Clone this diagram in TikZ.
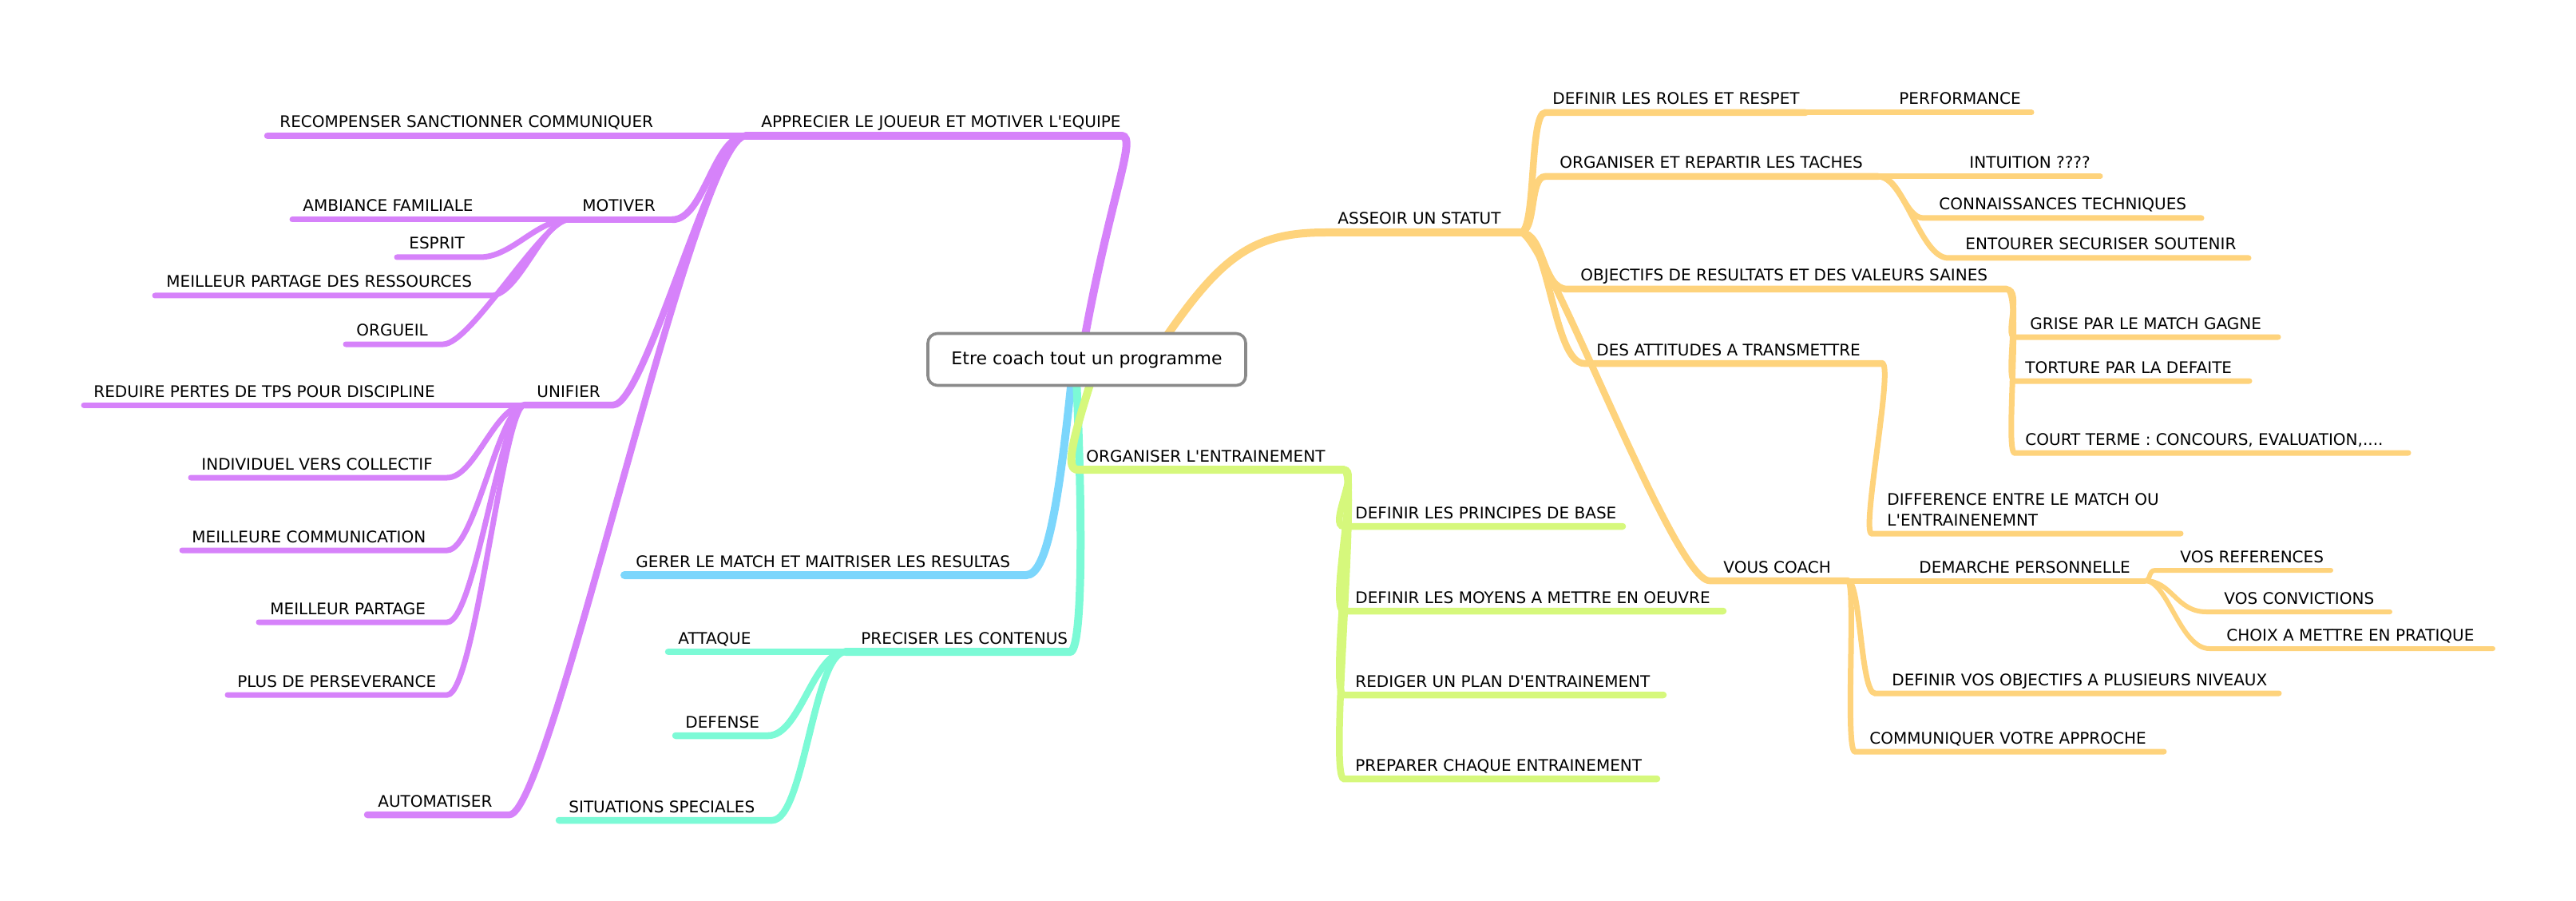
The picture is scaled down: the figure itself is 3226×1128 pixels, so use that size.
\documentclass[tikz,border=0pt]{standalone}
\usepackage{fontspec}
\newfontfamily\lblfont{DejaVu Sans}
\definecolor{cpur}{RGB}{214,130,250}
\definecolor{corg}{RGB}{254,211,124}
\definecolor{cgrn}{RGB}{214,248,124}
\definecolor{cblu}{RGB}{124,214,252}
\definecolor{ctea}{RGB}{124,250,214}
\definecolor{cbox}{RGB}{138,138,138}
\begin{document}
\begin{tikzpicture}[x=0.5pt,y=-0.5pt,
  lbl/.style={font=\lblfont\fontsize{10}{12}\selectfont, anchor=base west, inner sep=0pt},
  bra/.style={line width=5pt, line cap=round},
  brb/.style={line width=4.25pt, line cap=round},
  brc/.style={line width=3.5pt, line cap=round},
  brd/.style={line width=3pt, line cap=round},
  rootbox/.style={draw=cbox, line width=1.8pt, fill=white, rounded corners=6pt,
    minimum width=199pt, minimum height=32.5pt, inner sep=0pt,
    font=\lblfont\fontsize{11}{13}\selectfont}]
\useasboundingbox (0,0) rectangle (3226,1128);

% start points on the central box
\coordinate (rP) at (1358,425);
\coordinate (rO) at (1458,425);
\coordinate (rB) at (1342,475);
\coordinate (rT) at (1348,475);
\coordinate (rG) at (1367,475);

% ---------------- purple ----------------
\coordinate (appA) at (1405,170); \coordinate (appB) at (934,170);
\coordinate (recB) at (335,170);
\coordinate (motA) at (842,275); \coordinate (motB) at (712,275);
\coordinate (ambB) at (366,275);
\coordinate (espA) at (601,322); \coordinate (espB) at (497,322);
\coordinate (mpdA) at (615,370); \coordinate (mpdB) at (194,370);
\coordinate (orgA) at (555,431); \coordinate (orgB) at (433,431);
\coordinate (uniA) at (768,507); \coordinate (uniB) at (657,507);
\coordinate (redB) at (105,507);
\coordinate (indA) at (560,598); \coordinate (indB) at (239,598);
\coordinate (mcA) at (560,689); \coordinate (mcB) at (228,689);
\coordinate (mpA) at (560,779); \coordinate (mpB) at (324,779);
\coordinate (pdpA) at (560,870); \coordinate (pdpB) at (285,870);
\coordinate (autA) at (638,1020); \coordinate (autB) at (460,1020);

\draw[cpur,bra] (rP) .. controls (1392,240) and (1424,172) .. (appA);
\draw[cpur,bra] (appA) -- (appB);
\draw[cpur,brb] (appB) -- (recB);
\draw[cpur,brb] (appB) .. controls (894,170) and (882,275) .. (motA);
\draw[cpur,brb] (motA) -- (motB);
\draw[cpur,brc] (motB) -- (ambB);
\draw[cpur,brc] (motB) .. controls (672,275) and (641,322) .. (espA) -- (espB);
\draw[cpur,brc] (motB) .. controls (680,275) and (650,370) .. (mpdA) -- (mpdB);
\draw[cpur,brc] (motB) .. controls (680,275) and (590,431) .. (orgA) -- (orgB);
\draw[cpur,brb] (appB) .. controls (894,170) and (808,507) .. (uniA) -- (uniB);
\draw[cpur,brc] (uniB) -- (redB);
\draw[cpur,brc] (uniB) .. controls (620,507) and (595,598) .. (indA) -- (indB);
\draw[cpur,brc] (uniB) .. controls (625,507) and (595,689) .. (mcA) -- (mcB);
\draw[cpur,brc] (uniB) .. controls (628,507) and (595,779) .. (mpA) -- (mpB);
\draw[cpur,brc] (uniB) .. controls (630,507) and (595,870) .. (pdpA) -- (pdpB);
\draw[cpur,brb] (appB) .. controls (870,170) and (690,1020) .. (autA) -- (autB);

\node[lbl] (app) at (953,160) {APPRECIER LE JOUEUR ET MOTIVER L'EQUIPE};
\node[lbl] (rec) at (350,160) {RECOMPENSER SANCTIONNER COMMUNIQUER};
\node[lbl] (mot) at (729,265) {MOTIVER};
\node[lbl] (amb) at (379,265) {AMBIANCE FAMILIALE};
\node[lbl] (esp) at (512,312) {ESPRIT};
\node[lbl] (mpd) at (208,360) {MEILLEUR PARTAGE DES RESSOURCES};
\node[lbl] (org) at (446,421) {ORGUEIL};
\node[lbl] (uni) at (672,497) {UNIFIER};
\node[lbl] (red) at (117,497) {REDUIRE PERTES DE TPS POUR DISCIPLINE};
\node[lbl] (ind) at (252,588) {INDIVIDUEL VERS COLLECTIF};
\node[lbl] (mc) at (240,679) {MEILLEURE COMMUNICATION};
\node[lbl] (mp) at (338,769) {MEILLEUR PARTAGE};
\node[lbl] (pdp) at (297,860) {PLUS DE PERSEVERANCE};
\node[lbl] (aut) at (473,1010) {AUTOMATISER};

% ---------------- blue ----------------
\coordinate (gerA) at (1285,720); \coordinate (gerB) at (782,720);
\draw[cblu,bra] (rB) .. controls (1325,640) and (1310,720) .. (gerA) -- (gerB);
\node[lbl] (ger) at (796,710) {GERER LE MATCH ET MAITRISER LES RESULTAS};

% ---------------- teal ----------------
\coordinate (preA) at (1340,816); \coordinate (preB) at (1059,816);
\coordinate (attB) at (837,816);
\coordinate (defA) at (962,921); \coordinate (defB) at (846,921);
\coordinate (sitA) at (967,1027); \coordinate (sitB) at (700,1027);
\draw[ctea,bra] (rT) .. controls (1356,650) and (1356,816) .. (preA) -- (preB);
\draw[ctea,brb] (preB) -- (attB);
\draw[ctea,brb] (preB) .. controls (1019,816) and (1002,921) .. (defA) -- (defB);
\draw[ctea,brb] (preB) .. controls (1019,816) and (1007,1027) .. (sitA) -- (sitB);
\node[lbl] (pre) at (1078,806) {PRECISER LES CONTENUS};
\node[lbl] (att) at (849,806) {ATTAQUE};
\node[lbl] (def) at (858,911) {DEFENSE};
\node[lbl] (sit) at (712,1017) {SITUATIONS SPECIALES};

% ---------------- green ----------------
\coordinate (oeA) at (1350,588); \coordinate (oeB) at (1683,588);
\coordinate (dpbA) at (1683,659); \coordinate (dpbB) at (2032,659);
\coordinate (dmmA) at (1683,765); \coordinate (dmmB) at (2158,765);
\coordinate (rpeA) at (1683,870); \coordinate (rpeB) at (2083,870);
\coordinate (pceA) at (1683,975); \coordinate (pceB) at (2075,975);
\draw[cgrn,bra] (rG) .. controls (1340,560) and (1335,588) .. (oeA) -- (oeB);
\draw[cgrn,brb] (oeB) .. controls (1703,588) and (1663,659) .. (dpbA) -- (dpbB);
\draw[cgrn,brb] (oeB) .. controls (1703,588) and (1663,765) .. (dmmA) -- (dmmB);
\draw[cgrn,brb] (oeB) .. controls (1703,588) and (1663,870) .. (rpeA) -- (rpeB);
\draw[cgrn,brb] (oeB) .. controls (1703,588) and (1663,975) .. (pceA) -- (pceB);
\node[lbl] (oe) at (1360,578) {ORGANISER L'ENTRAINEMENT};
\node[lbl] (dpb) at (1697,649) {DEFINIR LES PRINCIPES DE BASE};
\node[lbl] (dmm) at (1697,755) {DEFINIR LES MOYENS A METTRE EN OEUVRE};
\node[lbl] (rpe) at (1697,860) {REDIGER UN PLAN D'ENTRAINEMENT};
\node[lbl] (pce) at (1697,965) {PREPARER CHAQUE ENTRAINEMENT};

% ---------------- orange ----------------
\coordinate (asA) at (1660,291); \coordinate (asB) at (1904,291);
\coordinate (drA) at (1935,141); \coordinate (drB) at (2261,141);
\coordinate (pfB) at (2544,141);
\coordinate (orA) at (1935,221); \coordinate (orB) at (2352,221);
\coordinate (inB) at (2630,221);
\coordinate (coA) at (2409,273); \coordinate (coB) at (2757,273);
\coordinate (enA) at (2440,323); \coordinate (enB) at (2816,323);
\coordinate (obA) at (1963,362); \coordinate (obB) at (2513,362);
\coordinate (grA) at (2523,422); \coordinate (grB) at (2853,422);
\coordinate (toA) at (2523,477); \coordinate (toB) at (2817,477);
\coordinate (ctA) at (2523,567); \coordinate (ctB) at (3016,567);
\coordinate (daA) at (1984,455); \coordinate (daB) at (2357,455);
\coordinate (dfA) at (2344,668); \coordinate (dfB) at (2731,668);
\coordinate (vcA) at (2141,727); \coordinate (vcB) at (2314,727);
\coordinate (dmB) at (2686,727);
\coordinate (vrA) at (2699,714); \coordinate (vrB) at (2919,714);
\coordinate (vvA) at (2763,766); \coordinate (vvB) at (2993,766);
\coordinate (chA) at (2767,812); \coordinate (chB) at (3122,812);
\coordinate (dvA) at (2348,868); \coordinate (dvB) at (2854,868);
\coordinate (cmA) at (2323,941); \coordinate (cmB) at (2710,941);

\draw[corg,bra] (rO) .. controls (1530,320) and (1570,291) .. (asA) -- (asB);
\draw[corg,brb] (asB) .. controls (1924,291) and (1915,141) .. (drA) -- (drB);
\draw[corg,brc] (drB) -- (pfB);
\draw[corg,brb] (asB) .. controls (1924,291) and (1915,221) .. (orA) -- (orB);
\draw[corg,brc] (orB) -- (inB);
\draw[corg,brc] (orB) .. controls (2380,221) and (2385,273) .. (coA) -- (coB);
\draw[corg,brc] (orB) .. controls (2385,221) and (2405,323) .. (enA) -- (enB);
\draw[corg,brb] (asB) .. controls (1935,291) and (1930,362) .. (obA) -- (obB);
\draw[corg,brc] (obB) .. controls (2533,362) and (2510,422) .. (grA) -- (grB);
\draw[corg,brc] (obB) .. controls (2533,362) and (2510,477) .. (toA) -- (toB);
\draw[corg,brc] (obB) .. controls (2533,362) and (2510,567) .. (ctA) -- (ctB);
\draw[corg,brb] (asB) .. controls (1940,291) and (1945,455) .. (daA) -- (daB);
\draw[corg,brc] (daB) .. controls (2372,455) and (2330,668) .. (dfA) -- (dfB);
\draw[corg,brb] (asB) .. controls (1935,291) and (2095,727) .. (vcA) -- (vcB);
\draw[corg,brc] (vcB) -- (dmB);
\draw[corg,brd] (dmB) .. controls (2694,727) and (2690,714) .. (vrA) -- (vrB);
\draw[corg,brd] (dmB) .. controls (2720,727) and (2725,766) .. (vvA) -- (vvB);
\draw[corg,brd] (dmB) .. controls (2715,727) and (2730,812) .. (chA) -- (chB);
\draw[corg,brc] (vcB) .. controls (2330,727) and (2330,868) .. (dvA) -- (dvB);
\draw[corg,brc] (vcB) .. controls (2325,727) and (2310,941) .. (cmA) -- (cmB);

\node[lbl] (as) at (1675,281) {ASSEOIR UN STATUT};
\node[lbl] (dr) at (1944,131) {DEFINIR LES ROLES ET RESPET};
\node[lbl] (pf) at (2378,131) {PERFORMANCE};
\node[lbl] (or) at (1953,211) {ORGANISER ET REPARTIR LES TACHES};
\node[lbl] (in) at (2466,211) {INTUITION ????};
\node[lbl] (co) at (2428,263) {CONNAISSANCES TECHNIQUES};
\node[lbl] (en) at (2461,313) {ENTOURER SECURISER SOUTENIR};
\node[lbl] (ob) at (1979,352) {OBJECTIFS DE RESULTATS ET DES VALEURS SAINES};
\node[lbl] (gr) at (2542,412) {GRISE PAR LE MATCH GAGNE};
\node[lbl] (to) at (2536,467) {TORTURE PAR LA DEFAITE};
\node[lbl] (ct) at (2536,557) {COURT TERME : CONCOURS, EVALUATION,....};
\node[lbl] (da) at (1999,445) {DES ATTITUDES A TRANSMETTRE};
\node[lbl] (df1) at (2363,632) {DIFFERENCE ENTRE LE MATCH OU};
\node[lbl] (df2) at (2363,658) {L'ENTRAINENEMNT};
\node[lbl] (vc) at (2158,717) {VOUS COACH};
\node[lbl] (dm) at (2403,717) {DEMARCHE PERSONNELLE};
\node[lbl] (vr) at (2730,704) {VOS REFERENCES};
\node[lbl] (vv) at (2785,756) {VOS CONVICTIONS};
\node[lbl] (ch) at (2788,802) {CHOIX A METTRE EN PRATIQUE};
\node[lbl] (dv) at (2369,858) {DEFINIR VOS OBJECTIFS A PLUSIEURS NIVEAUX};
\node[lbl] (cm) at (2341,931) {COMMUNIQUER VOTRE APPROCHE};

% ---------------- central box ----------------
\node[rootbox] (root) at (1361,450) {Etre coach tout un programme};
\end{tikzpicture}
\end{document}
